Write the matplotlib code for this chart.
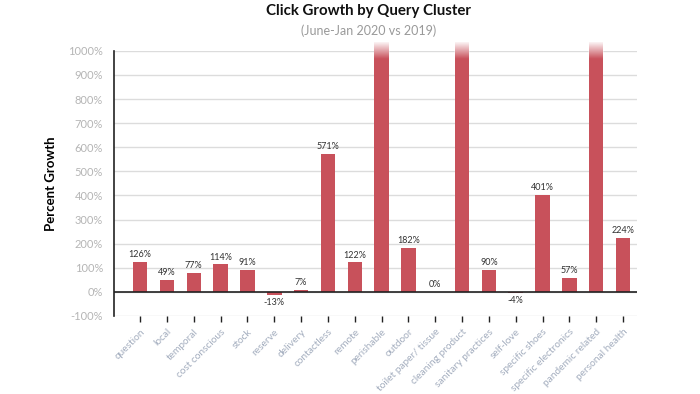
import numpy as np
import matplotlib
matplotlib.use("Agg")
import matplotlib.pyplot as plt

plt.rcParams['font.family'] = ['Lato', 'DejaVu Sans']

# data (None = bar runs off the top of the scale)
categories = ['question', 'local', 'temporal', 'cost conscious', 'stock', 'reserve',
              'delivery', 'contactless', 'remote', 'perishable', 'outdoor',
              'toilet paper/ tissue', 'cleaning product', 'sanitary practices',
              'self-love', 'specific shoes', 'specific electronics',
              'pandemic related', 'personal health']
growth = [126, 49, 77, 114, 91, -13, 7, 571, 122, None, 182, 0, None, 90, -4,
          401, 57, None, 224]
yticks = list(range(-100, 1001, 100))

bar_color = '#c8515b'
cap = 1035  # where the off-scale bars are faded out

fig = plt.figure(figsize=(7, 3.94), dpi=100)
ax = fig.add_axes([0.163, 0.198, 0.747, 0.673])

x = np.arange(len(categories))
w = 0.54
for i, v in enumerate(growth):
    if v is None:
        ax.bar(i, cap, width=w, color=bar_color, clip_on=False, zorder=3)
        # white fade over the top of the bar
        rgba = np.ones((50, 1, 4))
        rgba[:, 0, 3] = np.linspace(0, 1, 50)
        ax.imshow(rgba, extent=[i - w / 2 - 0.02, i + w / 2 + 0.02, 965, cap + 2],
                  origin='lower', aspect='auto', zorder=4, clip_on=False,
                  interpolation='bilinear')
    else:
        ax.bar(i, v, width=w, color=bar_color, zorder=3)
        if v >= 0:
            ax.text(i, v + 12, f'{v}%', ha='center', va='bottom', fontsize=6.5,
                    color='#333333', zorder=5)
        else:
            ax.text(i, v - 12, f'{v}%', ha='center', va='top', fontsize=6.5,
                    color='#333333', zorder=5)

ax.set_xlim(-0.97, len(categories) - 1 + 0.52)
ax.set_ylim(-100, 1000)
ax.set_yticks(yticks)
ax.set_yticklabels([f'{t}%' for t in yticks], fontsize=8, color='#b5b5b5')
ax.tick_params(axis='y', length=0, pad=8)
ax.grid(axis='y', color='#dcdcdc', linewidth=1, zorder=0)
ax.axhline(0, color='#222222', linewidth=1.2, zorder=4)

ax.set_xticks(x)
ax.set_xticklabels(categories, rotation=45, ha='right', rotation_mode='anchor',
                   fontsize=7.3, color='#a3adbe')
ax.tick_params(axis='x', length=4, width=1, color='#222222', pad=4)

for s in ['top', 'right', 'bottom']:
    ax.spines[s].set_visible(False)
ax.spines['left'].set_color('#222222')
ax.spines['left'].set_linewidth(1.2)

ax.set_ylabel('Percent Growth', fontsize=9.5, fontweight='bold', labelpad=8)

fig.text(0.527, 0.972, 'Click Growth by Query Cluster', ha='center', va='center',
         fontsize=10.8, fontweight='bold', color='#111111')
fig.text(0.527, 0.923, '(June-Jan 2020 vs 2019)', ha='center', va='center',
         fontsize=9, color='#999999')

fig.savefig('out.png', dpi=100)
